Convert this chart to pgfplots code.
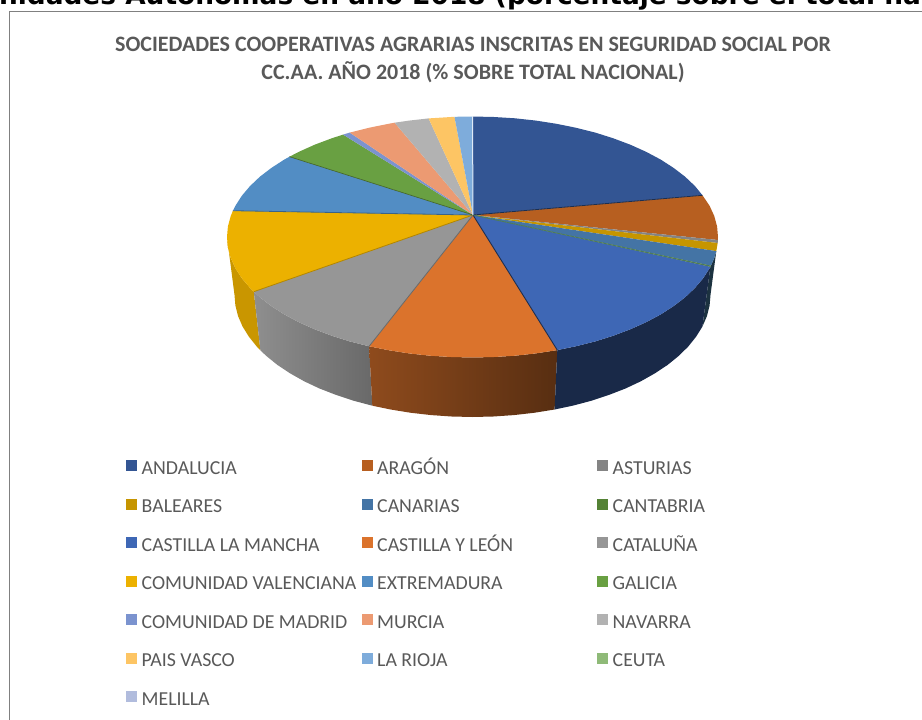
\documentclass[border=0pt]{standalone}
\usepackage{pgfplots}
\pgfplotsset{compat=1.18}
\usepackage{fontspec}
\setmainfont{Carlito}
\newfontfamily\headfont{DejaVu Sans}

\definecolor{cAnd}{HTML}{335593}
\definecolor{cAra}{HTML}{B75F20}
\definecolor{cAst}{HTML}{848484}
\definecolor{cBal}{HTML}{C69500}
\definecolor{cCan}{HTML}{4474A5}
\definecolor{cCnt}{HTML}{548235}
\definecolor{cClm}{HTML}{3E67B5}
\definecolor{cCyl}{HTML}{DB732C}
\definecolor{cCat}{HTML}{969696}
\definecolor{cVal}{HTML}{ECB100}
\definecolor{cExt}{HTML}{528DC4}
\definecolor{cGal}{HTML}{69A042}
\definecolor{cMad}{HTML}{7B93CF}
\definecolor{cMur}{HTML}{EC9A72}
\definecolor{cNav}{HTML}{B2B2B2}
\definecolor{cPvs}{HTML}{FDC564}
\definecolor{cRio}{HTML}{7EACDB}
\definecolor{cCeu}{HTML}{8FBA78}
\definecolor{cMel}{HTML}{B1BCDD}
\definecolor{txt}{HTML}{595959}
\definecolor{cEdge}{HTML}{1C3240}

\newcommand{\lab}[1]{\makebox[224.5pt][l]{\hspace{4.5pt}#1}}

\begin{document}
\begin{tikzpicture}
\useasboundingbox (0,0) rectangle (922pt,720pt);
\begin{axis}[
    width=922pt, height=720pt, scale only axis,
    xmin=0, xmax=922, ymin=0, ymax=720,
    y dir=reverse,
    hide axis,
    legend columns=3,
    legend image code/.code={\fill[#1] (0pt,-2pt) rectangle (11pt,9pt);},
    legend cell align=left,
    legend style={
        at={(axis cs:126,459.8)}, anchor=north west,
        draw=none, fill=none, inner sep=0pt, text=txt,
        font=\fontsize{19.8}{21}\selectfont,
        nodes={inner sep=0pt, text height=14pt, text depth=4pt},
        row sep=20.5pt,
    },
]
% side faces
\addplot[fill=cVal!85!black, draw=none, forget plot] coordinates {
    (253.8,291.7) (250.0,287.9) (241.8,278.2) (235.4,268.2) (230.7,257.9) (227.9,247.5) (227.0,237.0)
    (234.5,295) (235.4,305.6) (238.1,316.2) (242.6,326.6) (248.9,336.7) (256.8,346.6) (260.4,350.4)} -- cycle;
\addplot[left color=cCat!95!black, right color=cCat!70!black, draw=none, forget plot] coordinates {
    (369.1,346.3) (349.7,341.4) (331.7,335.7) (314.7,329.3) (298.9,322.2) (284.4,314.5) (271.4,306.1) (259.9,297.3) (253.8,291.7)
    (260.4,350.4) (266.4,356) (277.5,365) (290.2,373.4) (304.2,381.3) (319.5,388.5) (336,394.9) (353.5,400.7) (372.3,405.7)} -- cycle;
\addplot[left color=cCyl!65!black, right color=cCyl!40!black, draw=none, forget plot] coordinates {
    (557.3,350.1) (536.0,353.4) (515.1,355.7) (493.9,357.0) (472.5,357.5) (451.1,357.0) (429.9,355.7) (409.0,353.4) (388.5,350.2) (369.1,346.3)
    (372.3,405.7) (391.1,409.6) (410.9,412.8) (431.2,415.1) (451.7,416.5) (472.5,417) (493.3,416.5) (513.8,415.1) (534.1,412.8) (554.6,409.5)} -- cycle;
\addplot[fill=cEdge, draw=none, forget plot] coordinates {
    (716.3,251.1) (714.3,257.9) (710.4,266.8) (702.4,326.6) (706.9,316.2) (709.6,305.6) (710.5,295)} -- cycle;
\addplot[fill=cClm!40!black, draw=none, forget plot] coordinates {
    (710.4,266.8) (709.6,268.2) (703.2,278.2) (695.0,287.9) (685.1,297.3) (673.6,306.1) (660.6,314.5) (646.1,322.2) (630.3,329.3) (613.3,335.7) (595.3,341.4) (576.2,346.2) (557.3,350.1)
    (554.6,409.5) (573.1,405.6) (591.5,400.7) (609,394.9) (625.5,388.5) (640.8,381.3) (654.8,373.4) (667.5,365) (678.6,356) (688.2,346.6) (696.1,336.7) (702.4,326.6)} -- cycle;

% top of the pie, one wedge per region
\addplot[fill=cAnd, draw=none] coordinates {(473,215) (472.5,116.5) (493.9,117.0) (515.1,118.3) (536.0,120.6) (556.5,123.8) (576.2,127.8) (595.3,132.6) (613.3,138.3) (630.3,144.7) (646.1,151.8) (660.6,159.5) (673.6,167.9) (685.1,176.7) (695.0,186.1) (702.5,195.3)} -- cycle;
\addlegendentry{\lab{ANDALUCIA}}
\addplot[fill=cAra, draw=none] coordinates {(473,215) (702.5,195.3) (709.6,205.8) (714.3,216.1) (717.1,226.5) (718.0,237.0) (717.9,240)} -- cycle;
\addlegendentry{\lab{ARAGÓN}}
\addplot[fill=cAst, draw=none] coordinates {(473,215) (717.9,240) (717.7,243)} -- cycle;
\addlegendentry{\lab{ASTURIAS}}
\addplot[fill=cBal, draw=none] coordinates {(473,215) (717.7,243) (716.3,251.1)} -- cycle;
\addlegendentry{\lab{BALEARES}}
\addplot[fill=cCan, draw=none] coordinates {(473,215) (716.3,251.1) (714.3,257.9) (710.9,265.7)} -- cycle;
\addlegendentry{\lab{CANARIAS}}
\addplot[fill=cCnt, draw=none] coordinates {(473,215) (710.9,265.7) (710.4,266.8)} -- cycle;
\addlegendentry{\lab{CANTABRIA}}
\addplot[fill=cClm, draw=none] coordinates {(473,215) (710.4,266.8) (709.6,268.2) (703.2,278.2) (695.0,287.9) (685.1,297.3) (673.6,306.1) (660.6,314.5) (646.1,322.2) (630.3,329.3) (613.3,335.7) (595.3,341.4) (576.2,346.2) (557.3,350.1)} -- cycle;
\addlegendentry{\lab{CASTILLA LA MANCHA}}
\addplot[fill=cCyl, draw=none] coordinates {(473,215) (557.3,350.1) (536.0,353.4) (515.1,355.7) (493.9,357.0) (472.5,357.5) (451.1,357.0) (429.9,355.7) (409.0,353.4) (388.5,350.2) (369.1,346.3)} -- cycle;
\addlegendentry{\lab{CASTILLA Y LEÓN}}
\addplot[fill=cCat, draw=none] coordinates {(473,215) (369.1,346.3) (349.7,341.4) (331.7,335.7) (314.7,329.3) (298.9,322.2) (284.4,314.5) (271.4,306.1) (259.9,297.3) (253.8,291.7)} -- cycle;
\addlegendentry{\lab{CATALUÑA}}
\addplot[fill=cVal, draw=none] coordinates {(473,215) (253.8,291.7) (250.0,287.9) (241.8,278.2) (235.4,268.2) (230.7,257.9) (227.9,247.5) (227.0,237.0) (227.9,226.5) (230.7,216.1) (232.9,210.7)} -- cycle;
\addlegendentry{\lab{COMUNIDAD VALENCIANA}}
\addplot[fill=cExt, draw=none] coordinates {(473,215) (232.9,210.7) (235.4,205.8) (241.8,195.8) (250.0,186.1) (259.9,176.7) (271.4,167.9) (284.4,159.5) (289.5,156.7)} -- cycle;
\addlegendentry{\lab{EXTREMADURA}}
\addplot[fill=cGal, draw=none] coordinates {(473,215) (289.5,156.7) (298.9,151.8) (314.7,144.7) (331.7,138.3) (343.1,134.6)} -- cycle;
\addlegendentry{\lab{GALICIA}}
\addplot[fill=cMad, draw=none] coordinates {(473,215) (343.1,134.6) (349.7,132.6)} -- cycle;
\addlegendentry{\lab{COMUNIDAD DE MADRID}}
\addplot[fill=cMur, draw=none] coordinates {(473,215) (349.7,132.6) (368.8,127.8) (388.5,123.8) (394.6,122.7)} -- cycle;
\addlegendentry{\lab{MURCIA}}
\addplot[fill=cNav, draw=none] coordinates {(473,215) (394.6,122.7) (409.0,120.6) (428.6,118.4)} -- cycle;
\addlegendentry{\lab{NAVARRA}}
\addplot[fill=cPvs, draw=none] coordinates {(473,215) (428.6,118.4) (451.1,117) (454.5,116.8)} -- cycle;
\addlegendentry{\lab{PAIS VASCO}}
\addplot[fill=cRio, draw=none] coordinates {(473,215) (454.5,116.8) (472.5,116.5)} -- cycle;
\addlegendentry{\lab{LA RIOJA}}
\addlegendimage{fill=cCeu, draw=none}
\addlegendentry{\lab{CEUTA}}
\addlegendimage{fill=cMel, draw=none}
\addlegendentry{\lab{MELILLA}}

% darker seams between wedges
\addplot[color=cAnd!55!black, line width=.8pt, forget plot] coordinates {(702.5,195.3) (473,215)};
\addplot[color=cCnt!70!cClm, line width=.9pt, forget plot] coordinates {(710.6,266.3) (473,215)};
\addplot[color=cClm!45!black, line width=.9pt, forget plot] coordinates {(557.3,350.1) (473,215)};
\addplot[color=cCat!70!black, line width=.8pt, forget plot] coordinates {(369.1,346.3) (473,215)};
\addplot[color=cVal!75!black, line width=.8pt, forget plot] coordinates {(253.8,291.7) (473,215)};
\addplot[color=cExt!70!black, line width=.8pt, forget plot] coordinates {(232.9,210.7) (473,215)};
\addplot[color=cGal!60!black, line width=.6pt, forget plot] coordinates {(289.5,156.7) (473,215)};
\addplot[color=white!75!cRio, line width=1pt, forget plot] coordinates {(472.6,116) (472.9,215)};

% chart frame
\addplot[color=black!50, line width=1pt, forget plot] coordinates {(9.3,720) (9.3,11.5) (922,11.5)};

\node[anchor=base west, inner sep=0pt, font=\headfont\bfseries\fontsize{26.4}{28}\selectfont] at (axis cs:-85,4.5)
    {Comunidades Autónomas en año 2018 (porcentaje sobre el total nacional)};
\node[anchor=center, align=center, inner sep=0pt, text=txt, font=\bfseries\fontsize{22}{28}\selectfont] at (axis cs:473,60)
    {SOCIEDADES COOPERATIVAS AGRARIAS INSCRITAS EN SEGURIDAD SOCIAL POR\\CC.AA. AÑO 2018 (\% SOBRE TOTAL NACIONAL)};
\end{axis}
\end{tikzpicture}
\end{document}
